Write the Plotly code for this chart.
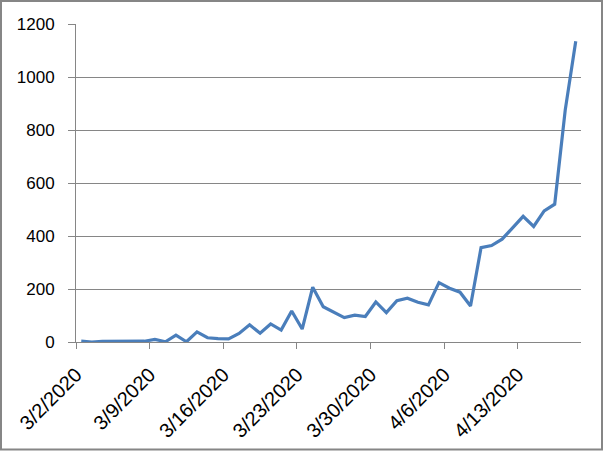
import plotly.graph_objects as go
import pandas as pd

dates = pd.date_range("2020-03-02", periods=48, freq="D")
values = [3, 0, 2, 2, 0, 2, 3, 10, 1, 26,
          1, 38, 16, 13, 12, 32, 65, 33, 68, 45,
          117, 49, 207, 133, 111, 92, 101, 96, 151, 111,
          156, 165, 150, 140, 224, 203, 188, 136, 356, 364,
          388, 432, 474, 436, 495, 520, 875, 1135]
tick_labels = ["3/2/2020", "3/9/2020", "3/16/2020", "3/23/2020",
               "3/30/2020", "4/6/2020", "4/13/2020"]
tick_dates = ["2020-03-02", "2020-03-09", "2020-03-16", "2020-03-23",
              "2020-03-30", "2020-04-06", "2020-04-13"]
y_ticks = [0, 200, 400, 600, 800, 1000, 1200]

# ticks sit between categories (half a day before each date)
tick_pos = [pd.Timestamp(d) - pd.Timedelta(hours=12) for d in tick_dates]

fig = go.Figure()
fig.add_trace(go.Scatter(x=dates, y=values, mode="lines",
                         line=dict(color="#4A7EBB", width=3.2),
                         showlegend=False))

W, H = 604, 452
L, R, T, B = 76, 23, 24, 110
pw, ph = W - L - R, H - T - B

fig.update_layout(
    width=W, height=H,
    margin=dict(l=L, r=R, t=T, b=B),
    paper_bgcolor="white", plot_bgcolor="white",
    font=dict(family="Liberation Sans, Arial, sans-serif", size=17, color="#000000"),
    xaxis=dict(
        type="date", automargin=False,
        range=[pd.Timestamp("2020-03-01 12:00"), pd.Timestamp("2020-04-18 12:00")],
        tickvals=tick_pos, ticktext=tick_labels, tickangle=-45,
        tickfont=dict(size=20), ticklabelstandoff=6,
        showgrid=False, showline=True, linecolor="#868686", linewidth=1,
        ticks="outside", ticklen=6, tickcolor="#868686", zeroline=False,
        fixedrange=True,
    ),
    yaxis=dict(
        range=[0, 1200], tickvals=y_ticks, automargin=False,
        showgrid=True, gridcolor="#868686", gridwidth=1,
        showline=True, linecolor="#868686", linewidth=1,
        ticks="outside", ticklen=7, tickcolor="#868686", zeroline=False,
        ticklabelstandoff=10,
    ),
    shapes=[dict(type="rect", xref="paper", yref="paper",
                 x0=(1 - L) / pw, x1=(W - 2 - L) / pw,
                 y0=(H - B - (H - 2.5)) / ph, y1=(H - B - 1) / ph,
                 line=dict(color="#868686", width=2), fillcolor="rgba(0,0,0,0)")],
)

fig.write_html("out.html", config={"displayModeBar": False},
               post_script="document.body.style.margin='0';document.body.style.overflow='hidden';")
